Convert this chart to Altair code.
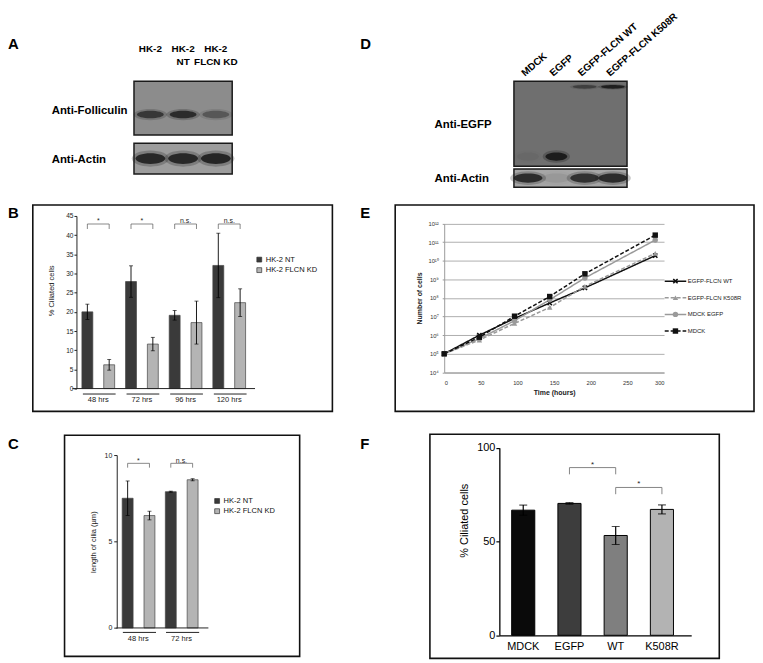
import altair as alt
import pandas as pd

FONT = "Liberation Sans"

# ======================= DATA =======================
# A: western blot of HK-2 cells (band intensity 0-1, relative band position in strip)
a_lanes = ["HK-2", "HK-2\nNT", "HK-2\nFLCN KD"]
a_folliculin = [0.70, 0.82, 0.40]
a_actin = [0.88, 0.88, 0.90]
a_folliculin_pos = 0.62
a_actin_pos = 0.50

# B: % ciliated cells
b_groups = ["48 hrs", "72 hrs", "96 hrs", "120 hrs"]
hk_series = ["HK-2 NT", "HK-2 FLCN KD"]
b_nt = [20.0, 27.9, 19.1, 32.1]
b_nt_err = [2.0, 4.1, 1.25, 8.4]
b_kd = [6.2, 11.6, 17.2, 22.4]
b_kd_err = [1.4, 1.75, 5.6, 3.6]
b_sig = ["*", "*", "n.s.", "n.s."]
b_bracket_top = 42.9
b_bracket_leg = 41.6
b_ticks = [0, 5, 10, 15, 20, 25, 30, 35, 40, 45]

# C: length of cilia
c_groups = ["48 hrs", "72 hrs"]
c_nt = [7.5, 7.88]
c_nt_err = [1.0, 0.03]
c_kd = [6.5, 8.57]
c_kd_err = [0.25, 0.06]
c_sig = ["*", "n.s."]
c_bracket_top = 9.52
c_bracket_leg = 9.27
c_ticks = [0, 5, 10]

# D: western blot of MDCK cells
d_lanes = ["MDCK", "EGFP", "EGFP-FLCN WT", "EGFP-FLCN K508R"]
d_fusion = [0.0, 0.0, 0.5, 0.95]
d_egfp = [0.06, 1.0, 0.0, 0.0]
d_actin = [0.85, 0.08, 0.80, 0.85]
d_fusion_pos = 0.065
d_egfp_pos = 0.885
d_actin_pos = 0.50

# E: growth curves
e_time = [0, 48, 96, 144, 192, 288]
e_series = ["EGFP-FLCN WT", "EGFP-FLCN K508R", "MDCK EGFP", "MDCK"]
e_wt = [1e5, 1.0e6, 8.0e6, 5.4e7, 3.5e8, 1.9e10]
e_k508r = [1e5, 5.5e5, 4.3e6, 3.1e7, 4.2e8, 2.5e10]
e_mdck_egfp = [1e5, 6.5e5, 6.0e6, 8.0e7, 1.2e9, 1.3e11]
e_mdck = [1e5, 7.8e5, 1.05e7, 1.2e8, 2.0e9, 2.4e11]
e_yticks = [1e4, 1e5, 1e6, 1e7, 1e8, 1e9, 1e10, 1e11, 1e12]
e_xticks = [0, 50, 100, 150, 200, 250, 300]

# F: % ciliated cells, MDCK lines
f_cats = ["MDCK", "EGFP", "WT", "K508R"]
f_vals = [66.7, 70.3, 53.2, 67.1]
f_err = [2.7, 0.4, 4.8, 2.4]
f_pairs = [("EGFP", "WT"), ("WT", "K508R")]
f_sig = ["*", "*"]
f_bracket_top = [89.4, 78.8]
f_bracket_leg = [85.8, 75.2]
f_ticks = [0, 50, 100]

# ======================= STYLE / LAYOUT =======================
COL_W = [355, 398]
ROW_H = [188, 230, 236]
HK_COLORS = ["#3a3a3a", "#b4b4b4"]
E_COLORS = ["#111111", "#9a9a9a", "#9a9a9a", "#111111"]
E_DASH = [[1, 0], [4, 2], [1, 0], [4, 2]]
X_SHAPE = "M-1,-0.6L-0.6,-1L0,-0.4L0.6,-1L1,-0.6L0.4,0L1,0.6L0.6,1L0,0.4L-0.6,1L-1,0.6L-0.4,0Z"
E_SHAPES = [X_SHAPE, "triangle-up", "circle", "square"]
F_COLORS = ["#0a0a0a", "#3d3d3d", "#7f7f7f", "#b3b3b3"]


def one():
    return pd.DataFrame({"k": [0]})


def label(txt, x, y, size, weight="normal", align="left", baseline="alphabetic", color="black"):
    return alt.Chart(pd.DataFrame({"t": [txt]})).mark_text(
        fontSize=size, fontWeight=weight, align=align, baseline=baseline, color=color, font=FONT
    ).encode(text="t:N", x=alt.value(x), y=alt.value(y))


def frame(x1, y1, x2, y2, width=1.6):
    return alt.Chart(one()).mark_rect(fill="transparent", stroke="#111", strokeWidth=width).encode(
        x=alt.value(x1), x2=alt.value(x2), y=alt.value(y1), y2=alt.value(y2))


def ellipse(ratio):
    return f"M-1,0A1,{ratio},0,1,1,1,0A1,{ratio},0,1,1,-1,0Z"


def strip(lanes, xscale, box_x, box_y, bg, bands):
    """bands: list of (intensities, pos, width, ratio)"""
    ysc = alt.Scale(domain=[0, 1], range=[box_y[0], box_y[1]], nice=False, zero=False)
    layers = [alt.Chart(one()).mark_rect(fill=bg, stroke="#1a1a1a", strokeWidth=1.5).encode(
        x=alt.value(box_x[0]), x2=alt.value(box_x[1]), y=alt.value(box_y[0]), y2=alt.value(box_y[1]))]
    for intens, pos, w, ratio in bands:
        df = pd.DataFrame({"lane": lanes, "intensity": intens, "pos": [pos] * len(lanes)})
        enc = dict(x=alt.X("lane:N", scale=xscale, axis=None),
                   y=alt.Y("pos:Q", scale=ysc, axis=None))
        layers.append(alt.Chart(df).mark_point(
            shape=ellipse(ratio * 1.2), filled=True, color="#1c1c1c", size=(w * 1.25) ** 2, strokeWidth=0
        ).encode(fillOpacity=alt.FillOpacity("intensity:Q", scale=alt.Scale(domain=[0, 1], range=[0, 0.4]),
                                             legend=None), **enc))
        layers.append(alt.Chart(df).mark_point(
            shape=ellipse(ratio), filled=True, color="#1c1c1c", size=w ** 2, strokeWidth=0
        ).encode(opacity=alt.Opacity("intensity:Q", scale=alt.Scale(domain=[0, 1], range=[0, 1]),
                                     legend=None), **enc))
    return alt.layer(*layers)


# ======================= PANEL A =======================
a_x = alt.Scale(type="band", domain=a_lanes, range=[127, 226], paddingInner=0, paddingOuter=0)
a_header = alt.Chart(pd.DataFrame({"lane": a_lanes})).mark_text(
    fontSize=10, fontWeight="bold", baseline="alphabetic", lineBreak="\n", lineHeight=14, font=FONT
).encode(x=alt.X("lane:N", scale=a_x, axis=None), y=alt.value(41.3), text="lane:N")
cellA = alt.layer(
    label("A", 0, 39, 15, "bold"),
    a_header,
    label("Anti-Folliculin", 44, 104, 11.5, "bold"),
    label("Anti-Actin", 44, 154, 11.5, "bold"),
    strip(a_lanes, a_x, (127, 226), (71.3, 125.3), "#8c8c8c", [(a_folliculin, a_folliculin_pos, 27, 0.28)]),
    strip(a_lanes, a_x, (127, 226), (133.7, 164.7), "#9d9d9d", [(a_actin, a_actin_pos, 30, 0.36)]),
).resolve_scale(y="independent").properties(width=COL_W[0], height=ROW_H[0])

# ======================= PANEL D =======================
d_x = alt.Scale(type="band", domain=d_lanes, range=[155, 269], paddingInner=0, paddingOuter=0)
d_header = alt.Chart(pd.DataFrame({"lane": d_lanes})).mark_text(
    fontSize=10, fontWeight="bold", align="left", baseline="alphabetic", angle=319, dx=-4, font=FONT
).encode(x=alt.X("lane:N", scale=d_x, axis=None), y=alt.value(64), text="lane:N")
cellD = alt.layer(
    label("D", 0, 39, 15, "bold"),
    d_header,
    label("Anti-EGFP", 75, 118, 11.5, "bold"),
    label("Anti-Actin", 75, 172.7, 11.5, "bold"),
    strip(d_lanes, d_x, (155, 269), (71.3, 157), "#6f6f6f",
          [(d_fusion, d_fusion_pos, 24, 0.15), (d_egfp, d_egfp_pos, 22, 0.38)]),
    strip(d_lanes, d_x, (155, 269), (159.7, 178), "#a6a6a6", [(d_actin, d_actin_pos, 29, 0.32)]),
).resolve_scale(y="independent").properties(width=COL_W[1], height=ROW_H[0])


# ======================= PANELS B & C =======================
def hk_panel(letter, groups, nt, nt_err, kd, kd_err, sig, br_top, br_leg, ymax, ticks, ytitle, g, W, H):
    rows = []
    for i, grp in enumerate(groups):
        rows.append({"group": grp, "series": hk_series[0], "value": nt[i], "err": nt_err[i]})
        rows.append({"group": grp, "series": hk_series[1], "value": kd[i], "err": kd_err[i]})
    df = pd.DataFrame(rows)
    xs = alt.Scale(type="band", domain=groups, range=g["x"], paddingInner=0, paddingOuter=0)
    xo = alt.XOffset("series:N", scale=alt.Scale(type="band", domain=hk_series, paddingInner=0.5,
                                                  paddingOuter=0.25))
    ys = alt.Scale(domain=[0, ymax], range=g["y"], nice=False, zero=False)
    x_axis = alt.Axis(orient="bottom", offset=g["under"] - H, domainDash=g["dash"],
                      domainDashOffset=g["dash_off"], domainColor="#222", domainWidth=1, ticks=False,
                      tickSize=0, labelFontSize=7.6, labelPadding=g["xpad"], labelAngle=0, labelColor="#222",
                      title=None, grid=False)
    y_axis = alt.Axis(orient="left", offset=-g["x"][0], values=ticks, tickSize=g["ytick"],
                      labelPadding=g["ypad"], labelFontSize=g["yfs"], labelColor="#222", domainColor="#222",
                      tickColor="#222", grid=False, title=ytitle, titleFontSize=7.6, titleFontWeight="normal",
                      titleColor="#222", titleAngle=270, titleX=g["tx"], titleY=g["ty"], titleAlign="center",
                      titleBaseline="middle")
    X = alt.X("group:N", scale=xs, axis=x_axis)

    def Y(field):
        return alt.Y(field, scale=ys, axis=y_axis)

    bars = alt.Chart(df).mark_bar(stroke="#444", strokeWidth=0.7).encode(
        x=X, xOffset=xo, y=Y("value:Q"),
        color=alt.Color("series:N", scale=alt.Scale(domain=hk_series, range=HK_COLORS),
                        legend=alt.Legend(orient="none", legendX=g["lx"], legendY=g["ly"], title=None,
                                          symbolType="square", symbolSize=24, symbolStrokeColor="#333",
                                          symbolStrokeWidth=0.7, labelFontSize=7.6, labelOffset=2.7,
                                          rowPadding=g["lrow"], padding=0, labelColor="#111")))
    eb = alt.Chart(df).transform_calculate(lo="datum.value - datum.err", hi="datum.value + datum.err")
    rule = eb.mark_rule(color="black", strokeWidth=0.9).encode(x=X, xOffset=xo, y=Y("lo:Q"), y2="hi:Q")
    cap_lo = eb.mark_tick(orient="horizontal", size=4, thickness=0.9, color="black").encode(
        x=X, xOffset=xo, y=Y("lo:Q"))
    cap_hi = eb.mark_tick(orient="horizontal", size=4, thickness=0.9, color="black").encode(
        x=X, xOffset=xo, y=Y("hi:Q"))
    br_rows = []
    for grp in groups:
        for o, (s, yv) in enumerate([(hk_series[0], br_leg), (hk_series[0], br_top),
                                     (hk_series[1], br_top), (hk_series[1], br_leg)]):
            br_rows.append({"group": grp, "series": s, "y": yv, "o": o})
    brackets = alt.Chart(pd.DataFrame(br_rows)).mark_line(color="#555", strokeWidth=0.7).encode(
        x=X, xOffset=xo, y=Y("y:Q"), detail="group:N", order="o:Q")
    sig_t = alt.Chart(pd.DataFrame({"group": groups, "sig": sig, "y": [br_top] * len(groups)})).mark_text(
        fontSize=7, baseline="alphabetic", dy=-0.8, color="#222", font=FONT).encode(
        x=X, y=Y("y:Q"), text="sig:N")
    base = alt.Chart(pd.DataFrame({"v": [0]})).mark_rule(color="#222", strokeWidth=1).encode(
        y=Y("v:Q"), x=alt.value(g["base"][0]), x2=alt.value(g["base"][1]))
    return alt.layer(
        frame(*g["frame"]), label(letter, 0, g["letter_y"], 15, "bold"),
        bars, rule, cap_lo, cap_hi, brackets, sig_t, base
    ).properties(width=W, height=H)


gB = dict(x=[69, 245], y=[193, 19], under=198, dash=[33, 11], dash_off=38, xpad=2, ytick=2.5, ypad=1,
          yfs=6.6, tx=-25, ty=94, lx=249.5, ly=59.2, lrow=1.6, base=[65, 249], frame=(25, 8, 327, 216),
          letter_y=21)
cellB = hk_panel("B", b_groups, b_nt, b_nt_err, b_kd, b_kd_err, b_sig, b_bracket_top, b_bracket_leg, 45,
                 b_ticks, "% Ciliated cells", gB, COL_W[0], ROW_H[1])

gC = dict(x=[109.6, 196.6], y=[204.3, 30], under=208.3, dash=[33.4, 10.1], dash_off=37.8, xpad=2.7, ytick=3,
          ypad=2, yfs=7, tx=-23.3, ty=117.3, lx=207, ly=72.5, lrow=1.3, base=[109.3, 202],
          frame=(57, 10, 294, 233), letter_y=24)
cellC = hk_panel("C", c_groups, c_nt, c_nt_err, c_kd, c_kd_err, c_sig, c_bracket_top, c_bracket_leg, 10,
                 c_ticks, "length of cilia (µm)", gC, COL_W[0], ROW_H[2])

# ======================= PANEL E =======================
e_df = pd.DataFrame({
    "time": e_time * 4,
    "cells": e_wt + e_k508r + e_mdck_egfp + e_mdck,
    "series": [s for s in e_series for _ in e_time],
})
ex = alt.Scale(domain=[0, 300], range=[84.7, 306.3], nice=False, zero=False)
ey = alt.Scale(type="log", domain=[1e4, 1e12], range=[176.7, 26.7], nice=False)
e_color = alt.Color("series:N", scale=alt.Scale(domain=e_series, range=E_COLORS), legend=None)
e_dash = alt.StrokeDash("series:N", scale=alt.Scale(domain=e_series, range=E_DASH), legend=None)
e_shape = alt.Shape("series:N", scale=alt.Scale(domain=e_series, range=E_SHAPES), legend=None)
SUP = "⁰¹²³⁴⁵⁶⁷⁸⁹"
e_lab = ("'10' + (round(log(datum.value)/LN10) >= 10 ? '¹' + substring('{s}', round(log(datum.value)/LN10)-10, "
         "round(log(datum.value)/LN10)-9) : substring('{s}', round(log(datum.value)/LN10), "
         "round(log(datum.value)/LN10)+1))").format(s=SUP)
e_xaxis = alt.Axis(orient="bottom", offset=176.7 - ROW_H[1], values=e_xticks, tickSize=0, labelPadding=7.5,
                   labelFontSize=5.8, labelColor="#333", domainColor="#9a9a9a", grid=False,
                   title="Time (hours)", titleFontSize=7, titleFontWeight="bold", titleY=20.6,
                   titleBaseline="middle", titleColor="#222")
e_yaxis = alt.Axis(orient="left", offset=-84.7, values=e_yticks, labelExpr=e_lab, tickSize=2,
                   tickColor="#9a9a9a", labelPadding=4, labelFontSize=5.8, labelColor="#333",
                   domainColor="#9a9a9a", grid=True, gridColor="#9a9a9a", gridWidth=0.8,
                   title="Number of cells", titleFontSize=7, titleFontWeight="bold", titleX=-25,
                   titleAngle=270, titleAlign="center", titleBaseline="middle", titleColor="#222")
EX = alt.X("time:Q", scale=ex, axis=e_xaxis)
EY = alt.Y("cells:Q", scale=ey, axis=e_yaxis)
e_lines = alt.Chart(e_df).mark_line(strokeWidth=1.5).encode(x=EX, y=EY, color=e_color, strokeDash=e_dash)
e_pts = alt.Chart(e_df).mark_point(filled=True, size=30, opacity=1).encode(x=EX, y=EY, color=e_color,
                                                                         shape=e_shape)
e_leg_df = pd.DataFrame({"series": e_series})
leg_y = alt.Y("series:N", scale=alt.Scale(type="point", domain=e_series, range=[84.7, 135], padding=0),
              axis=None)
e_leg = alt.layer(
    alt.Chart(e_leg_df).mark_rule(strokeWidth=1.5).encode(
        x=alt.value(307), x2=alt.value(328.7), y=leg_y, color=e_color, strokeDash=e_dash),
    alt.Chart(e_leg_df).mark_point(filled=True, size=30, opacity=1).encode(
        x=alt.value(317.8), y=leg_y, color=e_color, shape=e_shape),
    alt.Chart(e_leg_df).mark_text(align="left", baseline="middle", fontSize=6, color="#222", font=FONT).encode(
        x=alt.value(330.3), y=leg_y, text="series:N"),
)
cellE = alt.layer(
    frame(35.3, 8, 397, 216), label("E", 0, 21, 15, "bold"),
    alt.layer(e_lines, e_pts), e_leg
).resolve_scale(y="independent").properties(width=COL_W[1], height=ROW_H[1])

# ======================= PANEL F =======================
f_df = pd.DataFrame({"cond": f_cats, "pct": f_vals, "err": f_err})
fxs = alt.Scale(type="band", domain=f_cats, range=[140.3, 333.7], paddingInner=0.5, paddingOuter=0.325,
                align=0.41)
fys = alt.Scale(domain=[0, 100], range=[211.7, 22.6], nice=False, zero=False)
f_xaxis = alt.Axis(orient="bottom", offset=211.7 - ROW_H[2], domainColor="black", domainWidth=1.3, ticks=False,
                   tickSize=0, labelPadding=5, labelFontSize=11, labelColor="black", labelAngle=0, title=None)
f_yaxis = alt.Axis(orient="left", offset=-140.3, values=f_ticks, tickSize=3.5, tickColor="black", tickWidth=1.2,
                   domainColor="black", domainWidth=1.3, labelPadding=1, labelFontSize=11, labelColor="black",
                   grid=False, title="% Ciliated cells", titleFontSize=11, titleFontWeight="normal",
                   titleColor="black", titleX=-35, titleY=95.7, titleAngle=270, titleAlign="center",
                   titleBaseline="middle")
FX = alt.X("cond:N", scale=fxs, axis=f_xaxis)


def FY(field):
    return alt.Y(field, scale=fys, axis=f_yaxis)


f_bars = alt.Chart(f_df).mark_bar(stroke="black", strokeWidth=1).encode(
    x=FX, y=FY("pct:Q"),
    color=alt.Color("cond:N", scale=alt.Scale(domain=f_cats, range=F_COLORS), legend=None))
f_eb = alt.Chart(f_df).transform_calculate(lo="datum.pct - datum.err", hi="datum.pct + datum.err")
f_rule = f_eb.mark_rule(color="black", strokeWidth=1.2).encode(x=FX, y=FY("lo:Q"), y2="hi:Q")
f_cap_lo = f_eb.mark_tick(orient="horizontal", size=8, thickness=1.2, color="black").encode(x=FX, y=FY("lo:Q"))
f_cap_hi = f_eb.mark_tick(orient="horizontal", size=8, thickness=1.2, color="black").encode(x=FX, y=FY("hi:Q"))
fb_rows = []
for i, (c1, c2) in enumerate(f_pairs):
    for o, (c, yv) in enumerate([(c1, f_bracket_leg[i]), (c1, f_bracket_top[i]),
                                 (c2, f_bracket_top[i]), (c2, f_bracket_leg[i])]):
        fb_rows.append({"id": i, "cond": c, "y": yv, "o": o})
f_br = alt.Chart(pd.DataFrame(fb_rows)).mark_line(color="#777", strokeWidth=0.9).encode(
    x=FX, y=FY("y:Q"), detail="id:N", order="o:Q")
f_star = alt.Chart(pd.DataFrame({"cond": [p[0] for p in f_pairs], "sig": f_sig, "y": f_bracket_top})).mark_text(
    fontSize=8, baseline="alphabetic", dx=23.3, dy=-1, color="#222", font=FONT).encode(
    x=FX, y=FY("y:Q"), text="sig:N")
cellF = alt.layer(
    frame(70.3, 9, 362, 235), label("F", 0, 24, 15, "bold"),
    f_bars, f_rule, f_cap_lo, f_cap_hi, f_br, f_star
).properties(width=COL_W[1], height=ROW_H[2])

# ======================= COMPOSE =======================
chart = alt.concat(
    cellA, cellD, cellB, cellE, cellC, cellF, columns=2, spacing=0, bounds="flush"
).resolve_scale(
    color="independent", opacity="independent", fillOpacity="independent", shape="independent",
    strokeDash="independent"
).resolve_legend(color="independent").properties(padding=0).configure(font=FONT).configure_view(strokeWidth=0)

chart.save("out.html", embed_options={"renderer": "svg", "actions": False})
